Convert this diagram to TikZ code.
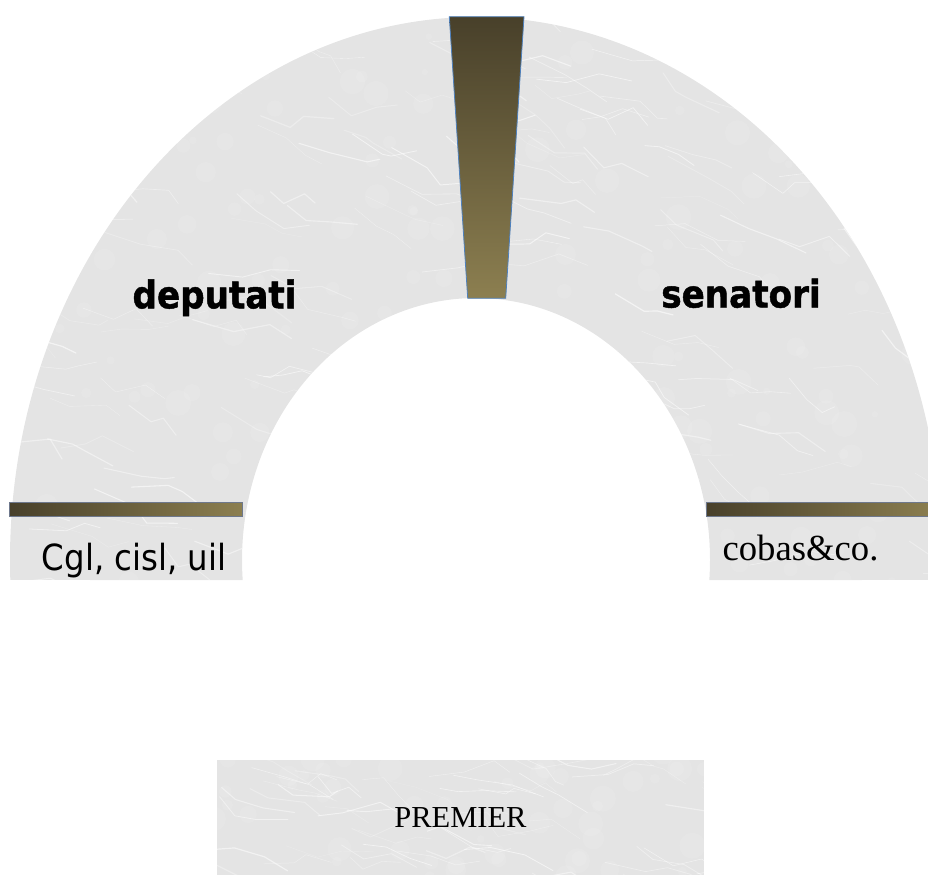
\documentclass[tikz,border=0pt]{standalone}
\usepackage{fontspec}
\setmainfont{Liberation Serif}
\newfontfamily\tahfont[FakeStretch=0.9, BoldFeatures={FakeBold=1.2}]{DejaVu Sans}
\usetikzlibrary{calc}
\definecolor{marble}{RGB}{228,228,228}
\definecolor{goldD}{RGB}{72,64,42}
\definecolor{goldL}{RGB}{140,127,80}
\definecolor{edgeblue}{RGB}{79,129,189}
\definecolor{bargray}{RGB}{110,120,140}
\tikzset{
  barbox/.style={draw=bargray, line width=0.5pt, left color=goldD, right color=goldL, inner sep=0pt, minimum height=14pt},
  bigsans/.style={font=\tahfont\bfseries\fontsize{38}{40}\selectfont, inner sep=0pt, anchor=base},
  smallsans/.style={font=\tahfont\fontsize{36}{38}\selectfont, inner sep=0pt, anchor=base},
  serifbig/.style={font=\fontsize{36.7}{38}\selectfont, inner sep=0pt, anchor=base},
  serifmid/.style={font=\fontsize{30.5}{32}\selectfont, inner sep=0pt},
  vein/.style={white, line cap=round, line join=round}
}
\newcommand{\marbleveins}[4]{% seed x0 w count
  \pgfmathsetseed{#1}
  \foreach \i in {1,...,#4}{
    \pgfmathsetmacro\xa{#2+rnd*(#3)}
    \pgfmathsetmacro\ya{\yoff+rnd*\yspan}
    \pgfmathsetmacro\dxa{12+rnd*30}
    \pgfmathsetmacro\dya{rnd*28-6}
    \pgfmathsetmacro\dxb{8+rnd*30}
    \pgfmathsetmacro\dyb{rnd*30-12}
    \pgfmathsetmacro\dxc{8+rnd*25}
    \pgfmathsetmacro\dyc{rnd*26-6}
    \pgfmathsetmacro\op{0.2+0.4*rnd}
    \pgfmathsetmacro\lw{0.3+0.9*rnd}
    \draw[vein, opacity=\op, line width=\lw pt] (\xa,\ya) -- ++(\dxa,\dya) -- ++(\dxb,\dyb) -- ++(\dxc,\dyc);
  }
  \foreach \i in {1,...,#4}{
    \pgfmathsetmacro\xa{#2+rnd*(#3)}
    \pgfmathsetmacro\ya{\yoff+rnd*\yspan}
    \pgfmathsetmacro\rr{3+rnd*10}
    \fill[white, opacity=0.1] (\xa,\ya) circle[radius=\rr pt];
  }
}
\begin{document}
\begin{tikzpicture}[x=1pt,y=-1pt]
\useasboundingbox (0,0) rectangle (928,875);
\clip (0,0) rectangle (928,875);
\coordinate (C) at (476,560);
\def\archpath{($(C)+(182.11:466pt and 543pt)$) arc[start angle=182.11, end angle=-2.11, x radius=466pt, y radius=543pt]
  -- ($(C)+(-4.38:234pt and 262pt)$) arc[start angle=-4.38, end angle=184.38, x radius=234pt, y radius=262pt] -- cycle}
% arch
\fill[marble] \archpath;
\begin{scope}
  \clip \archpath;
  \def\yoff{0}\def\yspan{600}
  \marbleveins{7}{-30}{960}{200}
\end{scope}
% premier box
\fill[marble] (216.7,760) rectangle (704,875);
\begin{scope}
  \clip (216.7,760) rectangle (704,875);
  \def\yoff{750}\def\yspan{130}
  \marbleveins{11}{190}{520}{55}
\end{scope}
\node[serifmid, minimum width=487.3pt, minimum height=115pt] (premier) at (460.4,817.5) {PREMIER};
% wedge
\shade[top color=goldD, bottom color=goldL, shading angle=0] (449.3,16.7) -- (524,16.7) -- (505.7,298.3) -- (467.7,298.3) -- cycle;
\draw[edgeblue, line width=0.8pt, line join=miter] (449.3,16.7) -- (524,16.7) -- (505.7,298.3) -- (467.7,298.3) -- cycle;
% bars
\node[barbox, minimum width=232.7pt] (barL) at (126,509.7) {};
\node[barbox, minimum width=232pt] (barR) at (822.7,509.7) {};
% labels
\node[bigsans] (deputati) at (214.5,308.3) {deputati};
\node[bigsans] (senatori) at (741,307.5) {senatori};
\node[smallsans] (cgl) at (134.2,570) {Cgl, cisl, uil};
\node[serifbig] (cobas) at (800.5,560) {cobas\&co.};
\end{tikzpicture}
\end{document}
